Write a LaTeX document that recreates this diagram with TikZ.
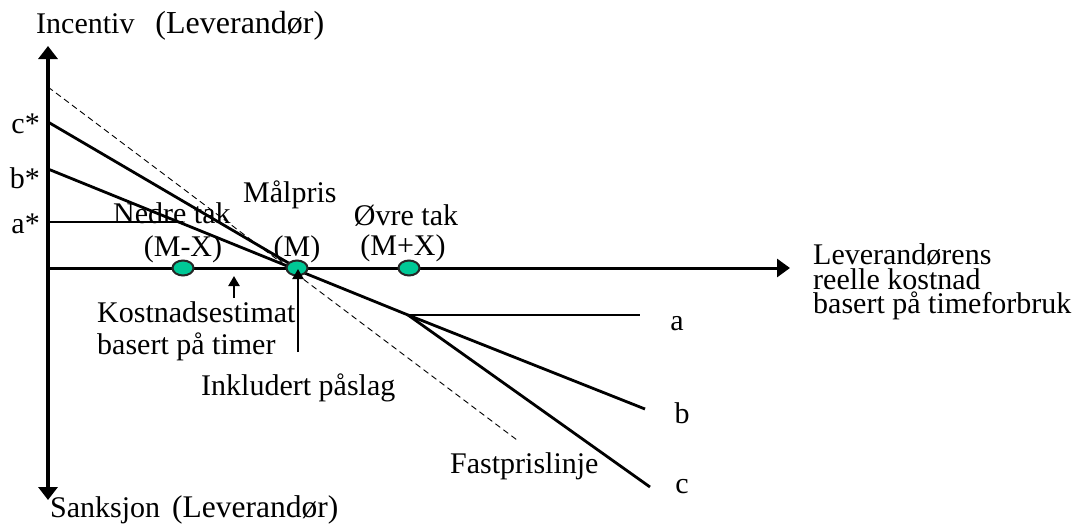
\documentclass[tikz,border=0pt]{standalone}
\usepackage{fontspec}
\setmainfont{Liberation Serif}
\usetikzlibrary{shapes.geometric,arrows.meta}
\definecolor{markgreen}{RGB}{0,200,150}
\begin{document}
\begin{tikzpicture}[x=1pt,y=-1pt,
  lbl/.style={inner sep=0pt, font=\fontsize{30}{30}\selectfont},
  mk/.style={ellipse, draw=black!85, line width=2pt, fill=markgreen, minimum width=21pt, minimum height=15pt, inner sep=0pt},
  vax/.style={line width=3.8pt, -{Triangle[length=13pt,width=19pt]}},
  hax/.style={line width=3pt, -{Triangle[length=13pt,width=18pt]}},
  curve/.style={line width=2.8pt},
  fixline/.style={line width=0.9pt, dash pattern=on 6pt off 4pt},
  ptr/.style={line width=2.3pt, -{Triangle[length=10pt,width=11pt]}}]
\useasboundingbox (0,0) rectangle (1077,525);
% axes
\coordinate (O) at (48,268);
\coordinate (ytop) at (48,46);
\coordinate (ybot) at (48,500);
\coordinate (xend) at (790,268);
\draw[vax] (O) -- (ytop);
\draw[vax] (O) -- (ybot);
\draw[hax] (O) -- (xend);
% key points
\coordinate (cs) at (48,122);
\coordinate (bs) at (48,169);
\coordinate (as) at (48,222);
\coordinate (aend) at (183,222);
\coordinate (mp) at (297,268);
\coordinate (brk) at (408,315);
\coordinate (a) at (640,315);
\coordinate (b) at (645,409);
\coordinate (c) at (650,487);
\coordinate (fs) at (48,87);
\coordinate (fe) at (517,440);
% lines
\draw[fixline] (fs) -- (fe);
\draw[curve] (cs) -- (mp);
\draw[curve] (bs) -- (brk);
\draw[curve] (as) -- (aend);
\draw[curve] (brk) -- (a);
\draw[curve] (brk) -- (b);
\draw[curve] (brk) -- (c);
% markers
\node[mk] (mx) at (183,268) {};
\node[mk] (m) at (297,268) {};
\node[mk] (px) at (409,268) {};
% pointers
\coordinate (ks) at (234,298);
\coordinate (kt) at (234,276);
\draw[ptr] (ks) -- (kt);
\coordinate (is) at (298,352);
\coordinate (it) at (298,269);
\draw[ptr] (is) -- (it);
% labels
\node[lbl, anchor=base west] (inc) at (36,33) {Incentiv\hspace{21pt}{\fontsize{32}{32}\selectfont(Leverandør)}};
\node[lbl, anchor=base west] (sank) at (50,517) {Sanksjon\hspace{12pt}{\fontsize{31.5}{31.5}\selectfont(Leverandør)}};
\node[lbl, anchor=base east] (lcs) at (40,133) {c*};
\node[lbl, anchor=base east] (lbs) at (40,188) {b*};
\node[lbl, anchor=base east] (las) at (40,233) {a*};
\node[lbl, anchor=base west] (malp) at (243,202) {Målpris};
\node[lbl, anchor=base west] (nedre) at (113,223) {Nedre tak};
\node[lbl, anchor=base] (lmx) at (183,256) {(M-X)};
\node[lbl, anchor=base] (lm) at (297,256) {(M)};
\node[lbl, anchor=base] (ovre) at (406,225) {Øvre tak};
\node[lbl, anchor=base] (lpx) at (403,255) {(M+X)};
\node[lbl, anchor=north west, align=left, font=\fontsize{30}{32}\selectfont] (kost) at (97,301.5) {Kostnadsestimat\\basert på timer};
\node[lbl, anchor=base west] (inkl) at (201,395) {Inkludert påslag};
\node[lbl, anchor=base west] (fast) at (450,473) {Fastprislinje};
\node[lbl, anchor=north west, align=left, font=\fontsize{30}{24.5}\selectfont] (lev) at (813,243.5) {Leverandørens\\reelle kostnad\\basert på timeforbruk};
\node[lbl, anchor=base] (la) at (677,330) {a};
\node[lbl, anchor=base] (lb) at (682,423) {b};
\node[lbl, anchor=base] (lc) at (682,493) {c};
\end{tikzpicture}
\end{document}
